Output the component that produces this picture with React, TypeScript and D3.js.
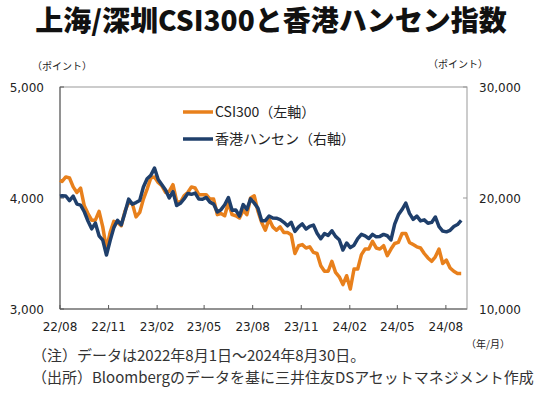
import React from 'react';
import * as d3 from 'd3';

// weekly closes (first point = 2022/08/01, then every Friday up to 2024/08/30)
const startDate = new Date(2022, 7, 1);
const dates: Date[] = [startDate, ...d3.timeFriday.range(new Date(2022, 7, 5), new Date(2024, 7, 31))];

const csi300 = [
  4160, 4150, 4190, 4180, 4100, 4050, 4090, 3930, 3860, 3800,
  3800, 3880, 3740, 3540, 3690, 3790, 3780, 3750, 3880, 3960,
  3950, 3830, 3870, 3990, 4080, 4180, 4190, 4140, 4110, 4050,
  4060, 4120, 3970, 3960, 4020, 4050, 4100, 4090, 4030, 4030,
  4030, 3990, 3990, 3850, 3860, 3840, 3960, 3850, 3840, 3820,
  3890, 3850, 4000, 4020, 3880, 3780, 3710, 3810, 3740, 3710,
  3740, 3690, 3690, 3670, 3500, 3570, 3580, 3550, 3560, 3510,
  3500, 3390, 3340, 3340, 3430, 3330, 3290, 3220, 3300, 3180,
  3360, 3360, 3490, 3540, 3540, 3610, 3550, 3540, 3570, 3480,
  3540, 3590, 3600, 3680, 3680, 3600, 3580, 3560, 3550, 3500,
  3460, 3430, 3470, 3540, 3410, 3440, 3370, 3340, 3320, 3320,
];

const hangSeng = [
  20160, 20200, 20180, 19770, 20170, 19450, 19360, 18760, 17930, 17220,
  17740, 16590, 16210, 14860, 16160, 17330, 17990, 17570, 18680, 19900,
  19450, 19590, 19780, 20990, 21740, 22040, 22690, 21660, 21190, 20720,
  20010, 20570, 19320, 19520, 19920, 20400, 20330, 20440, 19900, 19890,
  20050, 19630, 19450, 18750, 18950, 19390, 20040, 18890, 18920, 18370,
  19410, 18960, 19920, 19540, 19080, 17950, 17960, 18380, 18200, 18180,
  18060, 17810, 17490, 17810, 16990, 17400, 17660, 17200, 17450, 17560,
  16830, 16330, 16790, 16630, 17050, 16540, 16240, 15310, 15950, 15530,
  15750, 16340, 16730, 16590, 16350, 16720, 16500, 16540, 16720, 16600,
  16220, 17650, 18480, 18960, 19550, 18610, 18080, 18370, 17940, 18030,
  17720, 17800, 18290, 17420, 17020, 16950, 17090, 17430, 17610, 17990,
];

const leftTicks = [3000, 4000, 5000];
const rightTicks = [10000, 20000, 30000];
const xTickLabels = ['22/08', '22/11', '23/02', '23/05', '23/08', '23/11', '24/02', '24/05', '24/08'];

const title = '上海/深圳CSI300と香港ハンセン指数';
const legendNames = ['CSI300（左軸）', '香港ハンセン（右軸）'];
const notes = ['（注）データは2022年8月1日～2024年8月30日。', '（出所）Bloombergのデータを基に三井住友DSアセットマネジメント作成'];

const orange = '#E8801C';
const navy = '#1F3F6B';
const jp = '"Noto Sans CJK JP", "Noto Sans", sans-serif';
const num = '"DejaVu Sans", Verdana, sans-serif';

export default function App() {
  const left = 60, right = 467, top = 87, bottom = 309;

  const x = d3.scaleTime()
    .domain([startDate, new Date(2024, 8, 10)])
    .range([left, right]);
  const yL = d3.scaleLinear().domain([3000, 5000]).range([bottom, top]);
  const yR = d3.scaleLinear().domain([10000, 30000]).range([bottom, top]);

  const tickDates = xTickLabels.map(s => new Date(2000 + +s.slice(0, 2), +s.slice(3) - 1, 1));

  const lineL = d3.line<number>().x((_, i) => x(dates[i])).y(d => yL(d));
  const lineR = d3.line<number>().x((_, i) => x(dates[i])).y(d => yR(d));
  const fmt = d3.format(',');

  return (
    <svg width={550} height={396} style={{ position: 'absolute', left: 0, top: 0, background: '#fff' }}>
      <text x={271} y={31} textAnchor="middle" fontFamily={jp} fontWeight="900" fontSize={28} fill="#111">{title}</text>

      <text x={32} y={70} fontFamily={jp} fontSize={10} fill="#222">（ポイント）</text>
      <text x={428} y={68} fontFamily={jp} fontSize={10} fill="#222">（ポイント）</text>

      {/* frame */}
      <rect x={left} y={top} width={right - left} height={bottom - top} fill="none" stroke="#999" strokeWidth={1} />
      <line x1={left} x2={left} y1={top} y2={bottom} stroke="#595959" />
      <line x1={left} x2={right} y1={bottom} y2={bottom} stroke="#595959" />

      {leftTicks.map(t => (
        <g key={'l' + t}>
          <line x1={left} x2={left + 4} y1={yL(t)} y2={yL(t)} stroke="#595959" />
          <text x={44} y={yL(t) + 4.5} textAnchor="end" fontFamily={num} fontSize={12} fill="#222">{fmt(t)}</text>
        </g>
      ))}
      {rightTicks.map(t => (
        <g key={'r' + t}>
          <line x1={right - 4} x2={right} y1={yR(t)} y2={yR(t)} stroke="#999" />
          <text x={479} y={yR(t) + 4.5} fontFamily={num} fontSize={12} fill="#222">{fmt(t)}</text>
        </g>
      ))}
      {tickDates.map((d, i) => (
        <g key={'x' + i}>
          <line x1={x(d)} x2={x(d)} y1={bottom} y2={bottom - 4} stroke="#595959" />
          <text x={x(d)} y={331} textAnchor="middle" fontFamily={num} fontSize={12} fill="#222">{xTickLabels[i]}</text>
        </g>
      ))}

      <path d={lineL(csi300) || ''} fill="none" stroke={orange} strokeWidth={3.5} strokeLinejoin="round" />
      <path d={lineR(hangSeng) || ''} fill="none" stroke={navy} strokeWidth={3.5} strokeLinejoin="round" />

      {/* legend */}
      {legendNames.map((n, i) => (
        <g key={n}>
          <line x1={183} x2={213} y1={112 + i * 27} y2={112 + i * 27} stroke={i === 0 ? orange : navy} strokeWidth={3.5} />
          <text x={215} y={117 + i * 27} fontFamily={jp} fontSize={14} fill="#222">{n}</text>
        </g>
      ))}

      <text x={466} y={348} fontFamily={jp} fontSize={10} fill="#222">（年/月）</text>
      {notes.map((n, i) => (
        <text key={i} x={32} y={361 + i * 22} fontFamily={jp} fontSize={15} fill="#333">{n}</text>
      ))}
    </svg>
  );
}
